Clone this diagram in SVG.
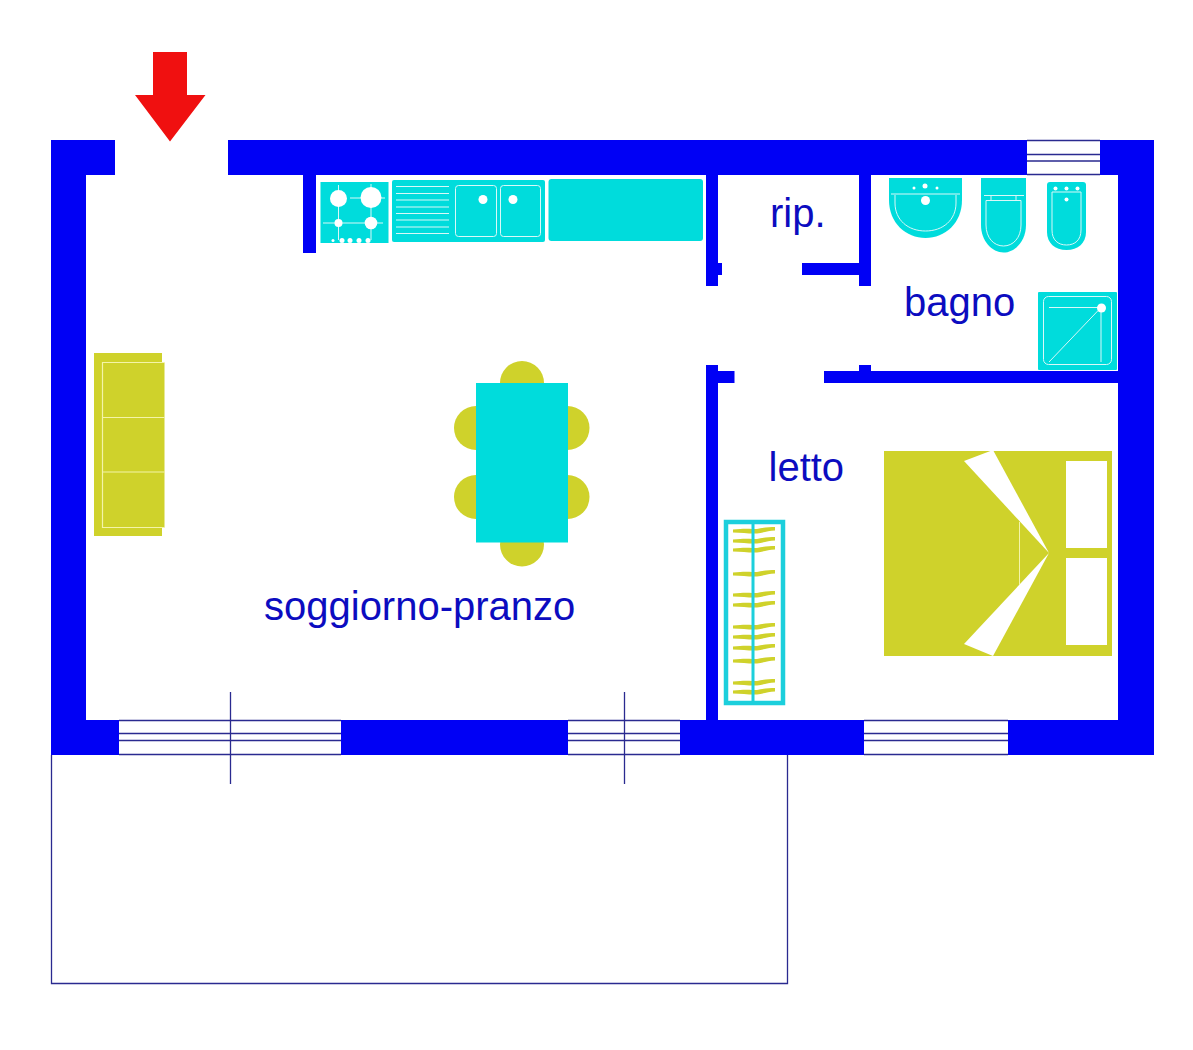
<svg xmlns="http://www.w3.org/2000/svg" width="1193" height="1050" viewBox="0 0 1193 1050">
<style>
.wall{fill:#0000f5}
.teal{fill:#00dcdc}
.olive{fill:#cfd22b}
.wl{stroke:#d8f8f8;stroke-width:1;fill:none}
.wd{fill:#fff}
.nl{stroke:#2a2a90;stroke-width:1.3;fill:none}
text{font-family:"Liberation Sans",Arial,sans-serif;font-size:40px;fill:#0c0cc0}
</style>
<defs>
<path id="hanger" d="M733 -1.500 C745 -3 752 -2 757 -2 C763 -3.500 770 -4 775 -4 L775 -0.500 C768 0 763 1.500 757 2.500 C750 3 742 1.500 733 1.500Z"/>
</defs>
<rect width="1193" height="1050" fill="#fff"/>
<g id="terrace">
<path class="nl" d="M51.500 755V983.500H787.500V755"/>
</g>
<g id="walls">
<path class="wall" d="M51 140H115V175H86V720H119V755H51Z"/>
<path class="wall" d="M228 140H1027V175H228Z"/>
<path class="wall" d="M1100 140H1154V755H1008V720H1118V175H1100Z"/>
<rect class="wall" x="341" y="720" width="227" height="35"/>
<path class="wall" d="M680 720H706V365H718V371H734.500V383H718V720H864V755H680Z"/>
<rect class="wall" x="303" y="175" width="13" height="78"/>
<path class="wall" d="M706 175H718V263H722V275H718V286H706Z"/>
<path class="wall" d="M859 175H871V286H859V275H802V263H859Z"/>
<path class="wall" d="M824 371H859V365H871V371H1118V383H824Z"/>
</g>
<g id="windows">
<path class="nl" d="M1027 140.500H1100M1027 154.500H1100M1027 161H1100M1027 174.500H1100"/>
<path class="nl" d="M119 720.500H341M119 733.500H341M119 740.500H341M119 754.500H341"/>
<path class="nl" d="M568 720.500H680M568 733.500H680M568 740.500H680M568 754.500H680"/>
<path class="nl" d="M864 720.500H1008M864 733.500H1008M864 740.500H1008M864 754.500H1008"/>
<path class="nl" d="M230.500 692V784M624.500 692V784"/>
</g>
<g id="entry-arrow">
<path fill="#f01010" d="M153 52H187V95H205.500L170 141.500L135 95H153Z"/>
</g>
<g id="hob">
<rect class="teal" x="320.500" y="182" width="68" height="61"/>
<path class="wl" d="M338.500 185V240M371 184V240M323 223H383M350 198H385"/>
<g class="wd">
<circle cx="338.500" cy="198.500" r="8.500"/>
<circle cx="371" cy="197.500" r="10.500"/>
<circle cx="338.500" cy="223" r="4"/>
<circle cx="371" cy="223" r="6.300"/>
<circle cx="333" cy="240.500" r="1.500"/>
<circle cx="342" cy="240.500" r="2.500"/>
<circle cx="350" cy="240.500" r="2.500"/>
<circle cx="359" cy="240.500" r="2.500"/>
<circle cx="368" cy="240.500" r="2.500"/>
</g>
</g>
<g id="sink">
<rect class="teal" x="392" y="180" width="153" height="62" rx="2"/>
<path class="wl" d="M396 186.500H449M396 193.500H449M396 200H449M396 207H449M396 213.500H449M396 220H449M396 227H449M396 233.500H449"/>
<rect class="wl" x="455.500" y="185.500" width="41" height="51" rx="3"/>
<rect class="wl" x="500.500" y="185.500" width="40" height="51" rx="3"/>
<circle class="wd" cx="483" cy="199.500" r="4.500"/>
<circle class="wd" cx="513" cy="199.500" r="4.500"/>
</g>
<g id="counter">
<rect class="teal" x="548.500" y="179" width="154.500" height="62" rx="3"/>
</g>
<g id="washbasin">
<path class="teal" d="M889 178H962V200C962 223 945 238 925.500 238C906 238 889 223 889 200Z"/>
<path class="wl" d="M891 194H960M895 195V203C895 220 908 231 925.500 231C943 231 956 220 956 203V195"/>
<g class="wd">
<circle cx="914" cy="188" r="1.500"/>
<circle cx="925" cy="186" r="2.500"/>
<circle cx="937" cy="188" r="1.500"/>
<circle cx="925.500" cy="200.500" r="4.500"/>
</g>
</g>
<g id="wc">
<path class="teal" d="M981 178H1026V225C1026 241 1015 252.500 1003.500 252.500C992 252.500 981 241 981 225Z"/>
<path class="wl" d="M984 195.500H1024M991 195.500V200M1016 195.500V200M986 200.500H1021V225C1021 238 1013 246 1003.500 246C994 246 986 238 986 225Z"/>
</g>
<g id="bidet">
<path class="teal" d="M1050 182H1083Q1086 182 1086 185V232C1086 243 1078 250 1066.500 250C1055 250 1047 243 1047 232V185Q1047 182 1050 182Z"/>
<path class="wl" d="M1052 192H1081V230C1081 240 1075 245 1066.500 245C1058 245 1052 240 1052 230Z"/>
<g class="wd">
<circle cx="1055.500" cy="188.500" r="2"/>
<circle cx="1066.500" cy="188.500" r="2"/>
<circle cx="1077.500" cy="188.500" r="2"/>
<circle cx="1066.500" cy="199.500" r="2"/>
</g>
</g>
<g id="shower">
<rect class="teal" x="1038" y="292" width="79" height="78" rx="1"/>
<rect class="wl" x="1043.500" y="296.500" width="68" height="68" rx="5"/>
<path class="wl" d="M1049 307.500H1101V362M1049 362L1101 307.500"/>
<circle class="wd" cx="1101.500" cy="308" r="4.500"/>
</g>
<g id="sofa">
<rect class="olive" x="94" y="353" width="68" height="183"/>
<rect class="olive" x="102.500" y="362.500" width="62" height="165"/>
<path d="M164.500 362.500H102.500V527.500H164.500M102.500 417.500H164.500M102.500 472H164.500" stroke="#f4f4a8" stroke-width="1.200" fill="none"/>
</g>
<g id="dining-table">
<g class="olive">
<circle cx="522" cy="383" r="22"/>
<circle cx="522" cy="544.500" r="22"/>
<circle cx="476" cy="428" r="22"/>
<circle cx="476" cy="497" r="22"/>
<circle cx="567.500" cy="428" r="22"/>
<circle cx="567.500" cy="497" r="22"/>
</g>
<rect class="teal" x="476" y="383" width="92" height="159.500"/>
</g>
<g id="wardrobe">
<rect x="726" y="522" width="57" height="181" fill="none" stroke="#1ccfdc" stroke-width="4.500"/>
<g class="olive">
<use href="#hanger" y="531"/>
<use href="#hanger" y="541"/>
<use href="#hanger" y="550"/>
<use href="#hanger" y="574"/>
<use href="#hanger" y="595"/>
<use href="#hanger" y="605"/>
<use href="#hanger" y="627"/>
<use href="#hanger" y="637"/>
<use href="#hanger" y="648"/>
<use href="#hanger" y="661"/>
<use href="#hanger" y="683"/>
<use href="#hanger" y="692"/>
</g>
<rect x="751.500" y="522" width="3" height="181" fill="#1ccfdc"/>
</g>
<g id="bed">
<rect class="olive" x="884" y="451" width="228" height="205"/>
<g class="wd">
<rect x="1066" y="461" width="41" height="87"/>
<rect x="1066" y="558" width="41" height="87"/>
<path d="M964 461L993 450L1049 553Z"/>
<path d="M964 644L993 656L1049 553Z"/>
</g>
<path d="M1019.500 522V585" stroke="#f4f4a8" stroke-width="1"/>
</g>
<g id="labels">
<text x="770" y="227">rip.</text>
<text x="904" y="316">bagno</text>
<text x="768.500" y="481">letto</text>
<text x="264" y="620">soggiorno-pranzo</text>
</g>
</svg>
